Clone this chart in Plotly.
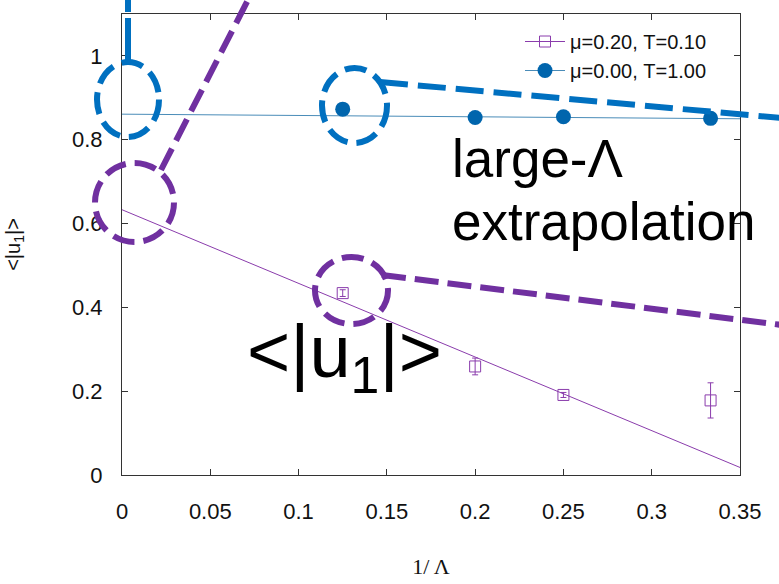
import plotly.graph_objects as go

# ---------------- data ----------------
inv_lambda = [1/8, 1/5, 1/4, 1/3]
u1_mu020 = [0.434, 0.259, 0.191, 0.178]
u1_mu020_err = [0.008, 0.020, 0.006, 0.042]
u1_mu000 = [0.873, 0.853, 0.855, 0.851]
u1_mu000_err = [0.003, 0.003, 0.003, 0.003]

fit_x = [0.0, 0.35]
fit_mu020 = [0.633, 0.018]
fit_mu000 = [0.861, 0.850]

x_ticks = [0, 0.05, 0.1, 0.15, 0.2, 0.25, 0.3, 0.35]
x_ticklabels = ["0", "0.05", "0.1", "0.15", "0.2", "0.25", "0.3", "0.35"]
y_ticks = [0, 0.2, 0.4, 0.6, 0.8, 1.0]
y_ticklabels = ["0", "0.2", "0.4", "0.6", "0.8", "1"]

name_mu020 = "\u03bc=0.20, T=0.10"
name_mu000 = "\u03bc=0.00, T=1.00"

PURPLE = "#8a3cac"
BLUE_PT = "#0065ad"
BLUE_LN = "#4a8cb8"
ANN_BLUE = "#0070C0"
ANN_PURPLE = "#7030A0"
FONT = "Liberation Sans, Arial, sans-serif"

# ---------------- figure ----------------
W, H = 779, 584
L, R, T, B = 122, 740, 14, 475


def px(x):
    return (x - L) / (R - L)


def py(y):
    return (B - y) / (B - T)


fig = go.Figure()

# fit lines
fig.add_trace(go.Scatter(x=fit_x, y=fit_mu020, mode="lines",
                         line=dict(color=PURPLE, width=1), showlegend=False, hoverinfo="skip"))
fig.add_trace(go.Scatter(x=fit_x, y=fit_mu000, mode="lines",
                         line=dict(color=BLUE_LN, width=1), showlegend=False, hoverinfo="skip"))

# data points
fig.add_trace(go.Scatter(x=inv_lambda, y=u1_mu020, mode="markers",
                         marker=dict(symbol="square-open", size=11, color=PURPLE, line=dict(width=1)),
                         error_y=dict(type="data", array=u1_mu020_err, color=PURPLE, thickness=1, width=3),
                         showlegend=False))
fig.add_trace(go.Scatter(x=inv_lambda, y=u1_mu000, mode="markers",
                         marker=dict(symbol="circle", size=15, color=BLUE_PT),
                         error_y=dict(type="data", array=u1_mu000_err, color=BLUE_PT, thickness=1, width=3),
                         showlegend=False))

# legend proxies
fig.add_trace(go.Scatter(x=[None], y=[None], mode="lines+markers", name=name_mu020,
                         line=dict(color=PURPLE, width=1),
                         marker=dict(symbol="square-open", size=11, color=PURPLE)))
fig.add_trace(go.Scatter(x=[None], y=[None], mode="lines+markers", name=name_mu000,
                         line=dict(color=BLUE_LN, width=1),
                         marker=dict(symbol="circle", size=15, color=BLUE_PT)))

axis_common = dict(showline=True, linecolor="#333333", linewidth=1, mirror="ticks",
                   ticks="inside", ticklen=6, tickcolor="#333333", showgrid=False,
                   zeroline=False, tickfont=dict(family=FONT, size=22, color="#111111"))

fig.update_xaxes(range=[0, 0.35], tickvals=x_ticks, ticktext=x_ticklabels,
                 ticklabelstandoff=17,
                 title=dict(text="1/ \u039b", font=dict(family="Liberation Serif, Times New Roman, serif",
                                                         size=22, color="#111111"), standoff=35),
                 **axis_common)
fig.update_yaxes(range=[0, 1.1], tickvals=y_ticks, ticktext=y_ticklabels,
                 ticklabelstandoff=14,
                 title=dict(text="&lt;|u<sub>1</sub>|&gt;", font=dict(family=FONT, size=20, color="#111111"),
                            standoff=46),
                 **axis_common)

# ---------------- overlay annotations (dashed circles / pointers) ----------------
shapes = []


def circle(x0, y0, x1, y1, color, dash):
    shapes.append(dict(type="circle", xref="paper", yref="paper",
                       x0=px(x0), x1=px(x1), y0=py(y1), y1=py(y0),
                       line=dict(color=color, width=6, dash=dash)))


def seg(xa, ya, xb, yb, color, dash):
    shapes.append(dict(type="line", xref="paper", yref="paper",
                       x0=px(xa), y0=py(ya), x1=px(xb), y1=py(yb),
                       line=dict(color=color, width=6, dash=dash)))


circle(97, 62, 159, 137, ANN_BLUE, "22px,9px")
seg(128, 62, 128, -4, ANN_BLUE, "44px,6px")
circle(95, 163, 174, 242, ANN_PURPLE, "22px,9px")
seg(161, 170, 250, -4, ANN_PURPLE, "24px,9px")
circle(322, 68, 387, 143, ANN_BLUE, "22px,9px")
seg(380, 82, 782, 118, ANN_BLUE, "28px,10px")
circle(315, 257, 388, 324, ANN_PURPLE, "22px,9px")
seg(382, 275, 782, 325, ANN_PURPLE, "24px,9px")

annotations = [
    dict(text="large-\u039b", xref="paper", yref="paper", x=px(450), y=py(158),
         xanchor="left", yanchor="middle", showarrow=False,
         font=dict(family=FONT, size=53, color="#000000")),
    dict(text="extrapolation", xref="paper", yref="paper", x=px(450), y=py(221),
         xanchor="left", yanchor="middle", showarrow=False,
         font=dict(family=FONT, size=53, color="#000000")),
    dict(text="&lt;|u<sub>1</sub>|&gt;", xref="paper", yref="paper", x=px(245), y=py(357),
         xanchor="left", yanchor="middle", showarrow=False,
         font=dict(family=FONT, size=74, color="#000000")),
]

fig.update_layout(
    width=W, height=H,
    margin=dict(l=L, r=W - R, t=T, b=H - B, autoexpand=False),
    paper_bgcolor="white", plot_bgcolor="white",
    font=dict(family=FONT, color="#111111"),
    showlegend=True,
    legend=dict(x=px(712), y=py(22), xanchor="right", yanchor="top",
                bgcolor="rgba(0,0,0,0)", font=dict(family=FONT, size=20, color="#111111"),
                itemwidth=40, tracegroupgap=0),
    shapes=shapes,
    annotations=annotations,
)

fig.write_html("out.html", config={"displayModeBar": False},
               post_script="document.body.style.margin='0';document.body.style.overflow='hidden';")
